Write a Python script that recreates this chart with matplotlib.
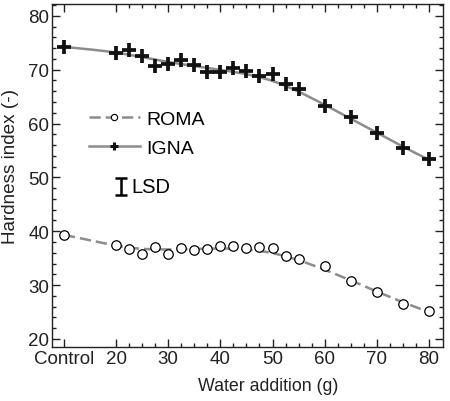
import numpy as np
import matplotlib
matplotlib.use("Agg")
import matplotlib.pyplot as plt
from matplotlib.ticker import FixedLocator, MultipleLocator

plt.rcParams['font.family'] = ['Liberation Sans', 'DejaVu Sans']

# water addition (g); "Control" is drawn at x = 10
water = [10, 20, 22.5, 25, 27.5, 30, 32.5, 35, 37.5, 40, 42.5, 45, 47.5,
         50, 52.5, 55, 60, 65, 70, 75, 80]
igna = [74.2, 73.1, 73.7, 72.5, 70.7, 71.0, 71.8, 70.8, 69.6, 69.5, 70.4,
        69.7, 68.8, 69.2, 67.4, 66.4, 63.2, 61.2, 58.2, 55.5, 53.4]
roma = [39.35, 37.4, 36.75, 35.8, 37.1, 35.8, 36.9, 36.5, 36.7, 37.3, 37.25,
        36.9, 37.0, 36.9, 35.4, 34.8, 33.5, 30.8, 28.75, 26.5, 25.2]
tick_pos = [10, 20, 30, 40, 50, 60, 70, 80]
tick_lab = ['Control', '20', '30', '40', '50', '60', '70', '80']
lsd_x, lsd_y, lsd_half = 21, 48.3, 1.5

gray = '#8c8c8c'


def smooth(x, y, xs, bw=7):
    # local linear regression with a gaussian kernel
    x = np.asarray(x, float)
    y = np.asarray(y, float)
    out = []
    for x0 in xs:
        w = np.exp(-0.5 * ((x - x0) / bw) ** 2)
        A = np.vstack([np.ones_like(x), x - x0]).T
        W = A * w[:, None]
        beta = np.linalg.solve(A.T @ W, W.T @ y)
        out.append(beta[0])
    return np.array(out)


fig = plt.figure(figsize=(4.5, 4.02), dpi=100)
ax = fig.add_axes([0.1156, 0.1343, 0.8688, 0.8533])

# smooth fitted curves
xs = np.linspace(10, 80, 200)
fit_i = smooth(water, igna, xs)
fit_r = smooth(water, roma, xs)
ax.plot(xs, fit_r, color=gray, lw=1.8, ls=(0, (4.5, 2)), zorder=1)
ax.plot(xs, fit_i, color=gray, lw=1.8, zorder=1)

ax.plot(water, roma, ls='none', marker='o', ms=6.8, mfc='white', mec='black',
        mew=0.9, zorder=3)
ax.plot(water, igna, ls='none', marker='+', ms=9.5, mec='#111111', mew=2.7,
        zorder=3)

# legend handles
ax.plot([], [], color=gray, lw=1.8, ls=(0, (4.5, 2)), marker='o', ms=4.5,
        mfc='white', mec='black', mew=0.8, label='ROMA')
ax.plot([], [], color=gray, lw=1.8, marker='+', ms=6, mec='#111111', mew=2.2,
        label='IGNA')
handles, labels = ax.get_legend_handles_labels()
ax.legend(handles[-2:], labels[-2:], loc='center left',
          bbox_to_anchor=(0.095, 0.622), frameon=False, fontsize=14,
          handlelength=2.6, handletextpad=0.35, labelspacing=0.62,
          borderpad=0, borderaxespad=0)

# LSD bar
ax.errorbar([lsd_x], [lsd_y], yerr=[lsd_half], color='black', lw=1.8,
            capsize=4.5, capthick=1.8)
ax.text(lsd_x + 1.9, lsd_y, 'LSD', fontsize=14.5, va='center', ha='left')

ax.set_xlim(7.7, 82.7)
ax.set_ylim(18.5, 82.2)
ax.xaxis.set_major_locator(FixedLocator(tick_pos))
ax.set_xticklabels(tick_lab)
ax.xaxis.set_minor_locator(FixedLocator(np.arange(20, 80.1, 2.5)))
ax.yaxis.set_major_locator(MultipleLocator(10))
ax.yaxis.set_minor_locator(MultipleLocator(2))
ax.tick_params(which='both', direction='in', top=True, right=True,
               colors='#222222', labelcolor='#222222', width=1)
ax.tick_params(which='major', length=6, labelsize=13.5, pad=2)
ax.tick_params(which='minor', length=3)
for s in ax.spines.values():
    s.set_color('#222222')
    s.set_linewidth(1)

ax.set_xlabel('Water addition (g)', fontsize=12.8, color='#222222',
              labelpad=5)
ax.xaxis.set_label_coords(0.554, -0.088)
ax.set_ylabel('Hardness index (-)', fontsize=13.6, color='#222222',
              labelpad=4)
ax.yaxis.set_label_coords(-0.085, 0.53)

fig.savefig('out.png', dpi=100)
